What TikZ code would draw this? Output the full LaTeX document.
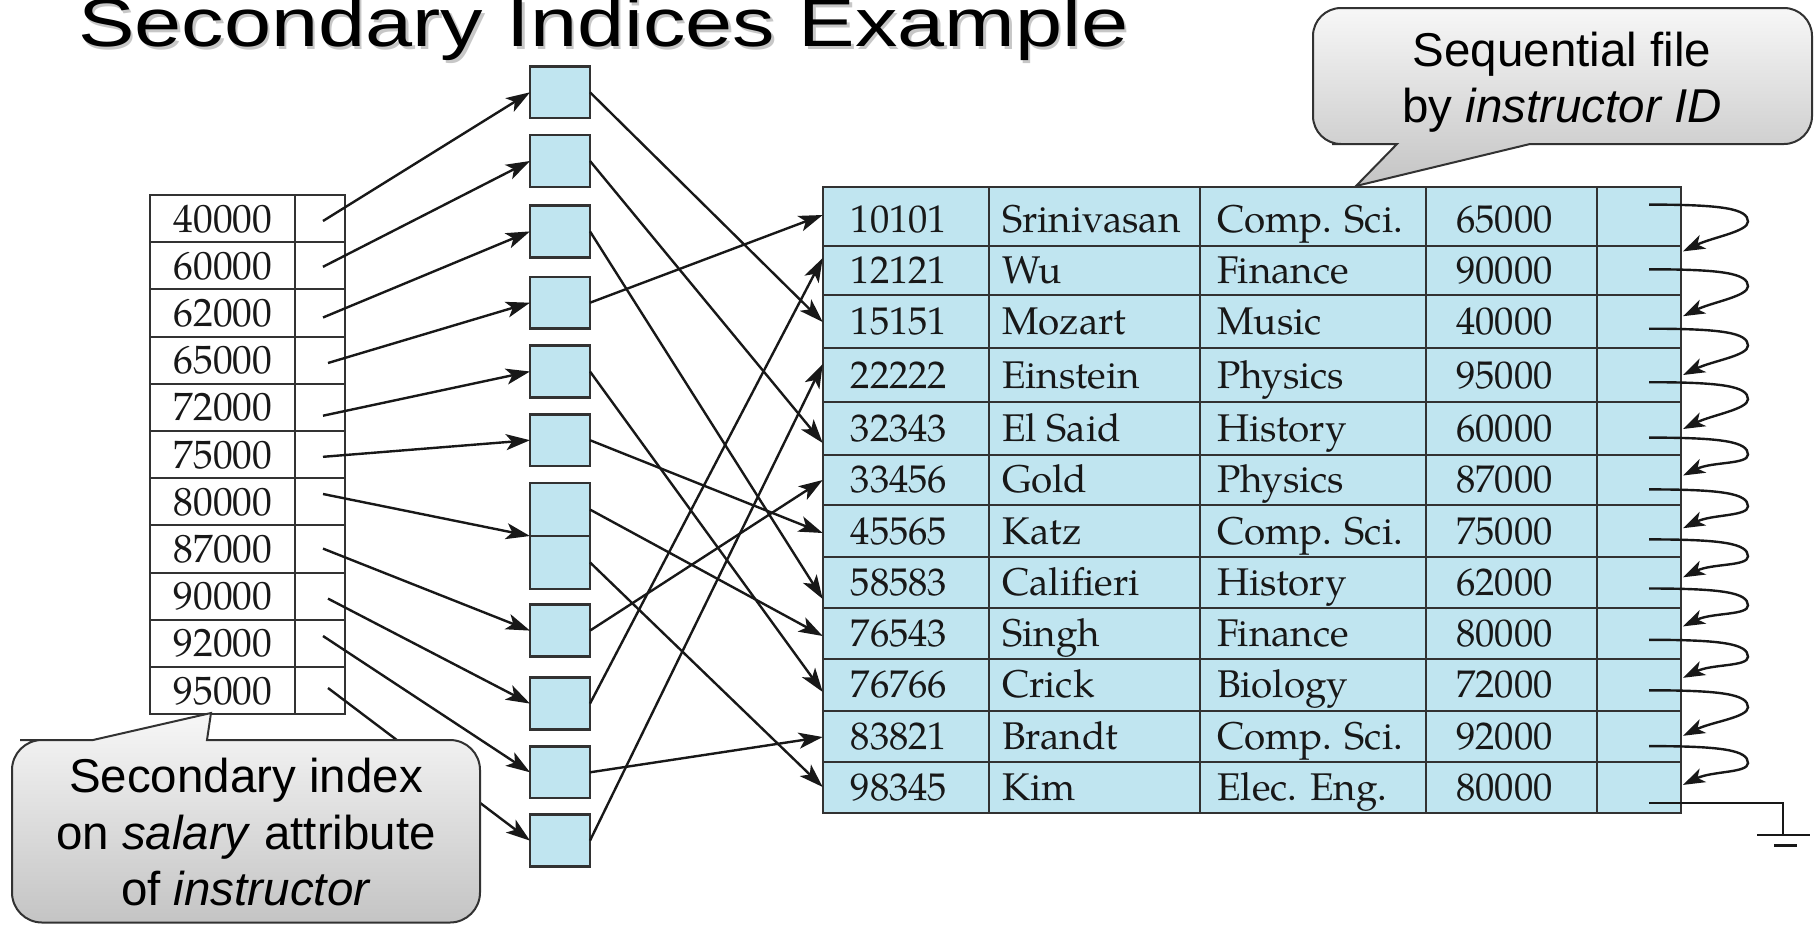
\documentclass[tikz,border=0pt]{standalone}
\usepackage{fontspec}
\setmainfont{Liberation Sans}
\newfontfamily\bookfont{texgyrepagella-regular.otf}
\usetikzlibrary{arrows.meta}

\definecolor{cellblue}{RGB}{192,229,240}
\definecolor{ink}{RGB}{24,24,24}
\definecolor{linegray}{RGB}{50,50,50}
\definecolor{calltop}{RGB}{247,247,247}
\definecolor{callbot}{RGB}{196,196,196}

\tikzset{
  wire/.style={draw=ink, line width=2.4pt},
  ptr/.style={wire, -{Stealth[length=24pt,width=16pt,inset=6pt]}},
  looparrow/.style={wire, -{Stealth[length=22pt,width=15pt,inset=6pt]}},
  keycell/.style={draw=linegray, line width=2pt, fill=white, minimum width=145pt,
    minimum height=47.2pt, inner sep=0pt, outer sep=0pt, anchor=north west,
    font=\bookfont\fontsize{39.5}{41}\selectfont, text=ink},
  ptrcell/.style={keycell, minimum width=50pt},
  bucket/.style={draw=linegray, line width=2.5pt, fill=cellblue, minimum width=60pt,
    minimum height=51.8pt, inner sep=0pt, outer sep=0pt, anchor=north west},
  recrow/.style={draw=linegray, line width=2pt, fill=cellblue, minimum width=858.3pt,
    inner sep=0pt, outer sep=0pt, anchor=north west},
  rectext/.style={anchor=base west, inner sep=0pt,
    font=\bookfont\fontsize{38.6}{41}\selectfont, text=ink},
  keytext/.style={anchor=base, inner sep=0pt,
    font=\bookfont\fontsize{39.5}{41}\selectfont, text=ink},
  callout/.style={draw=linegray, line width=2pt, top color=calltop, bottom color=callbot},
  calltext/.style={anchor=base, inner sep=0pt, font=\fontsize{47.5}{56}\selectfont, text=black},
  titletext/.style={anchor=base west, inner sep=0pt, font=\fontsize{68}{80}\selectfont},
}

\begin{document}
\begin{tikzpicture}[x=1pt,y=-1pt]
\useasboundingbox (0,0) rectangle (1820,924);

% title with its drop shadow
\node[titletext, text=black!22] (titleshadow) at (80.5,49)
  {\scalebox{1.246}[1]{Secondary Indices Example}};
\node[titletext, text=black] (title) at (78,46.7)
  {\scalebox{1.246}[1]{Secondary Indices Example}};

% secondary index on salary
\foreach \v [count=\i] in {40000,60000,62000,65000,72000,75000,80000,87000,90000,92000,95000}{
  \node[keycell] (kv\i) at (150,{195+47.2*(\i-1)}) {};
  \node[ptrcell] (kp\i) at (295,{195+47.2*(\i-1)}) {};
  \node[keytext] (kt\i) at (223,{195+47.2*(\i-1)+37}) {\v};
}

% buckets of record pointers
\foreach \t/\n in {66.4/b1,135.1/b2,205.5/b3,276.8/b4,345.6/b5,414.3/b6,
                   604.7/b8,677.7/b9,746.4/b10,814.7/b11}{
  \node[bucket] (\n) at (530,\t) {};
}
\node[bucket, minimum height=52.9pt] (b7a) at (530,483.1) {};
\node[bucket, minimum height=52.8pt] (b7b) at (530,536) {};

% instructor file, sorted by ID
\foreach \t/\b [count=\i] in {186.7/245.5,245.5/295,295/348,348/401.9,401.9/454.6,
    454.6/505,505/557.2,557.2/607.7,607.7/658.8,658.8/711,711/762,762/812.5}{
  \node[recrow, minimum height={\b-\t}] (r\i) at (822.7,\t) {};
}
\foreach \x in {989,1200,1426,1597}
  \draw[draw=linegray, line width=2pt] (\x,186.7) -- (\x,812.5);

\foreach \y/\a/\b/\c/\d [count=\i] in {
   232.6/10101/Srinivasan/{Comp. Sci.}/65000,
   283.3/12121/Wu/Finance/90000,
   334.5/15151/Mozart/Music/40000,
   388/22222/Einstein/Physics/95000,
   441.3/32343/{El Said}/History/60000,
   492.8/33456/Gold/Physics/87000,
   544.1/45565/Katz/{Comp. Sci.}/75000,
   595.5/58583/Califieri/History/62000,
   646.3/76543/Singh/Finance/80000,
   697.9/76766/Crick/Biology/72000,
   749.5/83821/Brandt/{Comp. Sci.}/92000,
   800.3/98345/Kim/{Elec. Eng.}/80000}{
  \node[rectext] (id\i) at (850.5,\y) {\a};
  \node[rectext] (nm\i) at (1002,\y) {\b};
  \node[rectext] (dp\i) at (1217,\y) {\c};
  \node[rectext] (sal\i) at (1456,\y) {\d};
}

% index entries -> buckets
\foreach \x/\y [count=\i] in {323/221,323/266.8,323/317.5,328/363,323/415.7,323/456.8,
                              323/494,323/548.6,328/598.6,323/636,328/688}
  \coordinate (s\i) at (\x,\y);
\draw[ptr] (s1) -- (b1.west);
\draw[ptr] (s2) -- (b2.west);
\draw[ptr] (s3) -- (b3.west);
\draw[ptr] (s4) -- (b4.west);
\draw[ptr] (s5) -- (b5.west);
\draw[ptr] (s6) -- (b6.west);
\draw[ptr] (s7) -- (b7a.south west);
\draw[ptr] (s8) -- (b8.west);
\draw[ptr] (s9) -- (b9.west);
\draw[ptr] (s10) -- (b10.west);
\draw[ptr] (s11) -- (b11.west);

% buckets -> records
\foreach \y [count=\i] in {215,258,322,364,443,480,533,599,636,692,737,787}
  \coordinate (e\i) at (822.7,\y);
\draw[ptr] (b1.east) -- (e3);
\draw[ptr] (b2.east) -- (e5);
\draw[ptr] (b3.east) -- (e8);
\draw[ptr] (b4.east) -- (e1);
\draw[ptr] (b5.east) -- (e10);
\draw[ptr] (b6.east) -- (e7);
\draw[ptr] (b7a.east) -- (e9);
\draw[ptr] (b7b.east) -- (e12);
\draw[ptr] (b8.east) -- (e6);
\draw[ptr] (b9.east) -- (e2);
\draw[ptr] (b10.east) -- (e11);
\draw[ptr] (b11.east) -- (e4);

% next-record chain of the sequential file
\foreach \s/\t [count=\i] in {204.6/251.4,269.3/316.2,328.7/375,382.2/429,437.6/475.5,
    489.4/528.2,539.4/577.3,588.5/626.4,639.8/677.8,690.3/735.8,746.1/784.9}{
  \coordinate (ls\i) at (1649,\s);
  \coordinate (lt\i) at (1683,\t);
  \draw[looparrow] (ls\i) .. controls (1722,\s) and (1748,{\s+4}) .. (1748,{\s+17})
     .. controls (1748,{\s+27}) and (1712,{\t-14}) .. (lt\i);
}
\coordinate (ls12) at (1649,802.8);
\coordinate (gnd) at (1783,835);
\draw[wire, line width=2.3pt] (ls12) -- (gnd |- ls12) -- (gnd);
\draw[wire, line width=2.5pt] (1757,835) -- (1810,835);
\draw[wire, line width=2.5pt] (1774,845.5) -- (1797,845.5);

% callouts
\path[callout] (1397,144) -- (1356,186) -- (1530,144) -- (1600,144)
  [rounded corners=28pt] -- (1812,144) -- (1812,8) -- (1313,8) -- (1313,144)
  -- (1360,144) [sharp corners] -- cycle;
\node[calltext] (seq1) at (1562,66) {Sequential file};
\node[calltext] (seq2) at (1562,122) {by \textit{instructor ID}};

\path[callout] (93,740) -- (211,713) -- (207,740) -- (260,740)
  [rounded corners=30pt] -- (480,740) -- (480,922.5) -- (12,922.5) -- (12,740)
  -- (50,740) [sharp corners] -- cycle;
\node[calltext] (sec1) at (246,792) {Secondary index};
\node[calltext] (sec2) at (246,849) {on \textit{salary} attribute};
\node[calltext] (sec3) at (246,905) {of \textit{instructor}};
\end{tikzpicture}
\end{document}
